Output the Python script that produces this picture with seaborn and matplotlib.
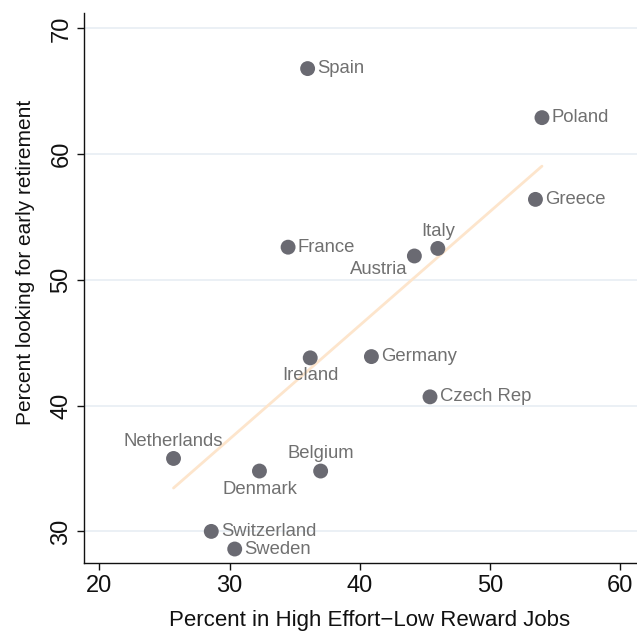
"""
Early retirement vs high effort-low reward jobs
"""

import pandas as pd
import seaborn as sns
import matplotlib.pyplot as plt

countries = ['Spain', 'Poland', 'Greece', 'Italy', 'Austria', 'France', 'Ireland',
             'Germany', 'Czech Rep', 'Netherlands', 'Denmark', 'Belgium',
             'Switzerland', 'Sweden']
effort_reward = [36.0, 54.0, 53.5, 46.0, 44.2, 34.5, 36.2, 40.9, 45.4, 25.7, 32.3, 37.0, 28.6, 30.4]
early_retire = [66.8, 62.9, 56.4, 52.5, 51.9, 52.6, 43.8, 43.9, 40.7, 35.8, 34.8, 34.8, 30.0, 28.6]

# where the label goes relative to the dot
label_pos = {'Italy': 'above', 'Netherlands': 'above', 'Belgium': 'above',
             'Ireland': 'below', 'Denmark': 'below', 'Austria': 'belowleft'}

df = pd.DataFrame({'country': countries, 'x': effort_reward, 'y': early_retire})

sns.set_style('white')
plt.rcParams['font.family'] = ['Liberation Sans', 'DejaVu Sans']

fig = plt.figure(figsize=(6.37, 6.31), dpi=100)
ax = fig.add_axes([0.132, 0.108, 0.868, 0.871])

sns.regplot(data=df, x='x', y='y', ci=None, ax=ax, scatter=False,
            line_kws={'color': '#fde5cc', 'lw': 2, 'zorder': 1})
sns.scatterplot(data=df, x='x', y='y', ax=ax, s=115, color='#6a6a72',
                edgecolor='none', zorder=3)

for _, r in df.iterrows():
    pos = label_pos.get(r['country'], 'right')
    if pos == 'right':
        off, ha, va = (7, 0), 'left', 'center'
    elif pos == 'above':
        off, ha, va = (0, 12.5), 'center', 'center'
    elif pos == 'below':
        off, ha, va = (0, -13), 'center', 'center'
    else:
        off, ha, va = (-5, -9.5), 'right', 'center'
    ax.annotate(r['country'], (r['x'], r['y']), xytext=off, textcoords='offset points',
                ha=ha, va=va, fontsize=13.3, color='#707070')

ax.set_xlim(18.83, 61.3)
ax.set_ylim(27.5, 71.2)
ax.set_xticks([20, 30, 40, 50, 60])
ax.set_yticks([30, 40, 50, 60, 70])
ax.yaxis.grid(True, color='#e8edf3', lw=1.2)
ax.set_axisbelow(True)
for s in ['top', 'right']:
    ax.spines[s].set_visible(False)
for s in ['left', 'bottom']:
    ax.spines[s].set_color('#111111')
    ax.spines[s].set_linewidth(1)
ax.tick_params(axis='both', which='major', length=5, width=1, color='#111111',
               labelsize=17, labelcolor='#111111', direction='out', bottom=True, left=True)
plt.setp(ax.get_yticklabels(), rotation=90, va='center')
ax.set_xlabel('Percent in High Effort\u2212Low Reward Jobs', fontsize=16, color='#111111')
ax.set_ylabel('Percent looking for early retirement', fontsize=15, color='#111111')
ax.xaxis.set_label_coords(0.517, -0.085)
ax.yaxis.set_label_coords(-0.088, 0.547)

plt.savefig('out.png', dpi=100)
